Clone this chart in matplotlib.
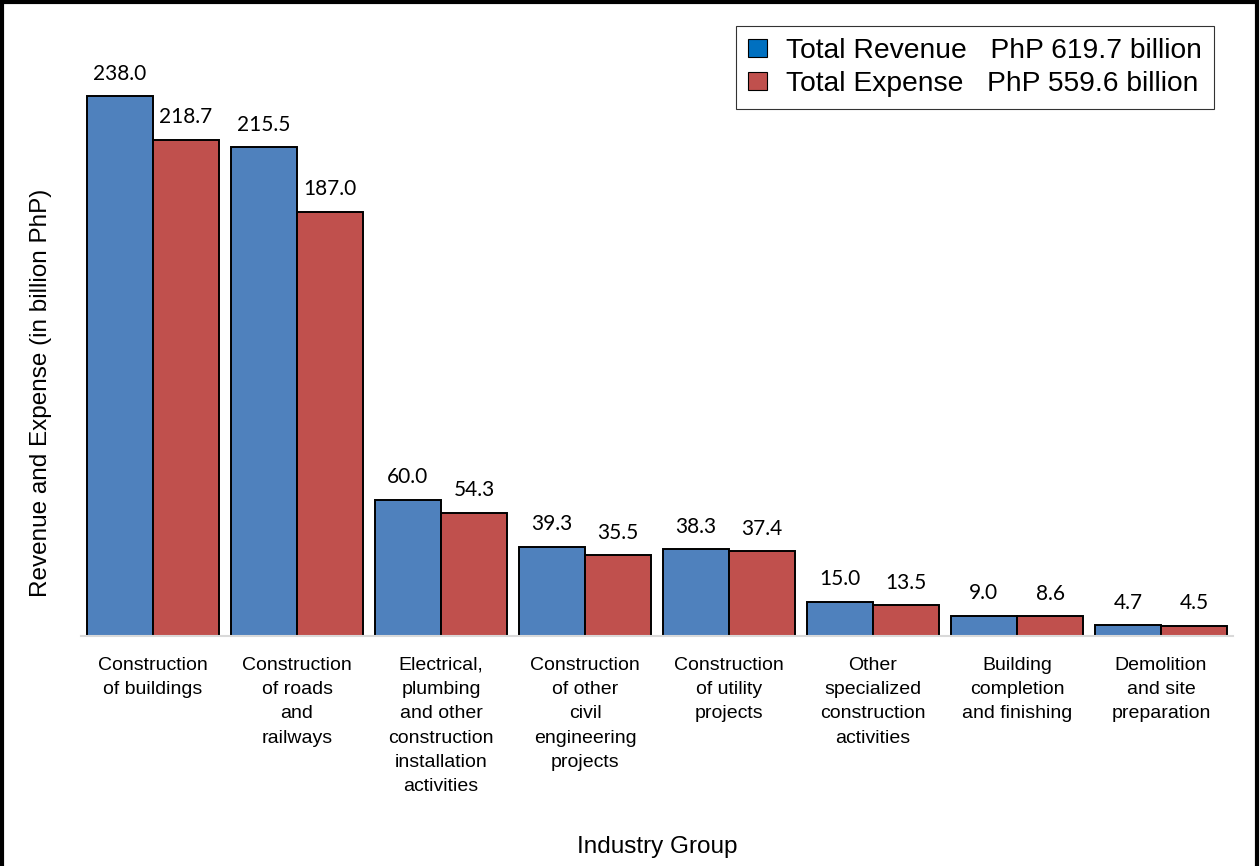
import matplotlib.pyplot as plt
import numpy as np
from matplotlib.patches import Rectangle, Patch

categories = [
    "Construction\nof buildings",
    "Construction\nof roads\nand\nrailways",
    "Electrical,\nplumbing\nand other\nconstruction\ninstallation\nactivities",
    "Construction\nof other\ncivil\nengineering\nprojects",
    "Construction\nof utility\nprojects",
    "Other\nspecialized\nconstruction\nactivities",
    "Building\ncompletion\nand finishing",
    "Demolition\nand site\npreparation",
]
revenue = [238.0, 215.5, 60.0, 39.3, 38.3, 15.0, 9.0, 4.7]
expense = [218.7, 187.0, 54.3, 35.5, 37.4, 13.5, 8.6, 4.5]
legend_labels = ["Total Revenue   PhP 619.7 billion",
                 "Total Expense   PhP 559.6 billion"]

blue = "#4F81BD"
red = "#C0504D"

fig = plt.figure(figsize=(12.6, 8.66), dpi=100)
ax = fig.add_axes([81 / 1260, (866 - 636) / 866, 1152 / 1260, 616 / 866])

x = np.arange(len(categories))
w = 0.46
b1 = ax.bar(x - w / 2, revenue, w, color=blue, edgecolor="black", linewidth=1.4)
b2 = ax.bar(x + w / 2, expense, w, color=red, edgecolor="black", linewidth=1.4)

for bars, vals in ((b1, revenue), (b2, expense)):
    for b, v in zip(bars, vals):
        ax.annotate(f"{v:.1f}", (b.get_x() + b.get_width() / 2, v),
                    xytext=(0, 9), textcoords="offset points",
                    ha="center", va="bottom", fontsize=15, family="Lato")

ax.set_xlim(-0.5, 7.5)
ax.set_ylim(0, 616 / 2.268)
ax.set_yticks([])
for s in ("top", "right", "left"):
    ax.spines[s].set_visible(False)
ax.spines["bottom"].set_color("#d9d9d9")
ax.spines["bottom"].set_linewidth(1.5)

ax.set_xticks(x)
ax.set_xticklabels(categories, fontsize=14, family="Liberation Sans",
                   linespacing=1.56)
ax.tick_params(axis="x", length=0, pad=15)

ax.set_ylabel("Revenue and Expense (in billion PhP)", fontsize=17.5,
              family="Liberation Sans")
# label sits lower than the axes centre in the original
ax.yaxis.set_label_coords(-29 / 1152, (636 - 393) / 616)
fig.text(657 / 1260, (866 - 847) / 866, "Industry Group", ha="center", va="center",
         fontsize=17.5, family="Liberation Sans")

handles = [Patch(facecolor="#0070C0", edgecolor="black", linewidth=0.8),
           Patch(facecolor=red, edgecolor="black", linewidth=0.8)]
leg = ax.legend(handles, legend_labels, loc="upper right",
                bbox_to_anchor=(1214 / 1260, 1 - 26 / 866),
                bbox_transform=fig.transFigure,
                prop={"family": "Liberation Sans", "size": 20.3},
                frameon=True, fancybox=False, edgecolor="black",
                handlelength=0.65, handleheight=0.65, handletextpad=0.7,
                labelspacing=0.25, borderpad=0.42, borderaxespad=0)
leg.get_frame().set_linewidth(0.8)

fig.patches.append(Rectangle((2 / 1260, -0.01), 1255 / 1260, 1.0 - 2 / 866 + 0.01,
                             transform=fig.transFigure, fill=False,
                             edgecolor="black", linewidth=3))

fig.savefig("out.png", dpi=100)
